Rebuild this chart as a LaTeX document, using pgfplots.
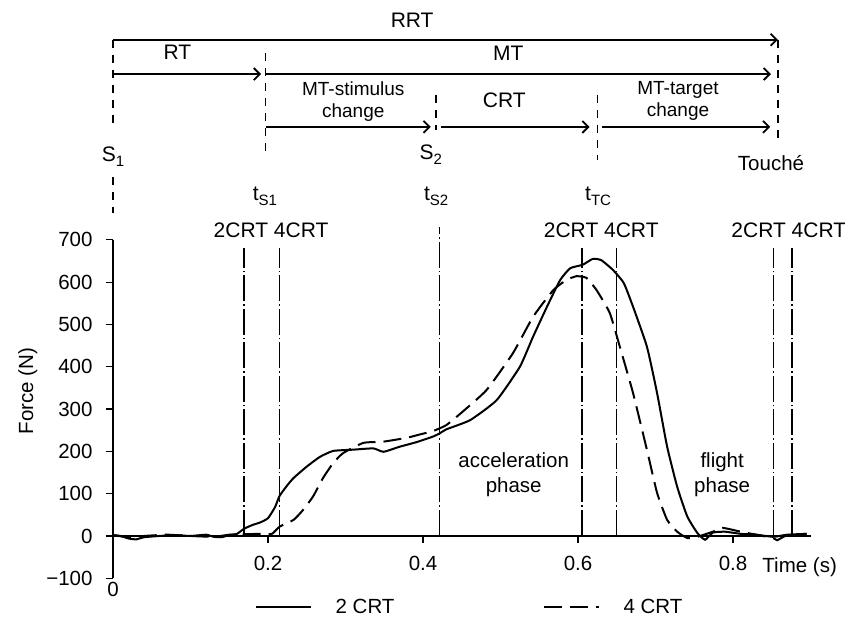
\documentclass[border=0pt]{standalone}
\usepackage{fontspec}
\setmainfont{Liberation Sans}
\usepackage{pgfplots}
\pgfplotsset{compat=1.18}
\usetikzlibrary{arrows.meta}
\newcommand\fs{\fontsize{20.5}{25}\selectfont}
\newcommand\fb{\fontsize{21}{25}\selectfont}
\newcommand\fsm{\fontsize{19}{22}\selectfont}
\newcommand\sub[1]{\raisebox{-0.45ex}{\fontsize{15}{15}\selectfont #1}}
\begin{document}
\begin{tikzpicture}
\begin{axis}[
  x=775pt, y=0.423pt,
  xmin=0, xmax=0.9, ymin=-100, ymax=700,
  axis x line*=middle, axis y line*=left,
  hide obscured x ticks=false, hide obscured y ticks=false,
  xtick={0.2,0.4,0.6,0.8}, xticklabels={0.2,0.4,0.6,0.8},
  ytick={-100,0,100,200,300,400,500,600,700},
  yticklabels={−100,0,100,200,300,400,500,600,700},
  tick align=outside, major tick length=7pt,
  every tick/.style={black, line width=1.2pt},
  axis line style={line width=1.6pt},
  tick label style={font=\fs},
  xticklabel style={yshift=-10pt},
  yticklabel style={xshift=-10pt},
  clip=false,
  legend style={draw=none, fill=none, at={(axis cs:0.46,-168)}, anchor=center,
    legend columns=2, font=\fs,
    /tikz/every odd column/.append style={column sep=22pt},
    /tikz/every even column/.append style={column sep=146pt}},
  legend image code/.code={\draw[#1] (0pt,0pt) -- (55pt,0pt);},
]
% curves
\addplot[black, line width=2pt, smooth, tension=0.3] coordinates {
(0,2) (0.01,0) (0.02,-6) (0.03,-8) (0.04,-3) (0.06,0) (0.08,2) (0.1,0) (0.12,3) (0.13,-2) (0.14,-3) (0.15,2) (0.16,5) (0.169,17) (0.18,26) (0.19,32) (0.2,42) (0.209,68) (0.215,95) (0.225,120) (0.233,137) (0.25,164) (0.267,187) (0.284,201) (0.31,204) (0.336,207) (0.349,199) (0.37,211) (0.392,222) (0.413,235) (0.422,243) (0.43,252) (0.461,274) (0.495,321) (0.525,400) (0.542,471) (0.56,542) (0.577,605) (0.59,633) (0.606,641) (0.619,655) (0.63,652) (0.645,629) (0.659,598) (0.671,542) (0.689,447) (0.702,338) (0.715,211) (0.728,116) (0.741,46) (0.754,7) (0.764,-9) (0.774,8) (0.79,10) (0.81,5) (0.83,3) (0.852,-2) (0.87,3) (0.895,5)
};
\addlegendentry{2 CRT}
\addplot[black, line width=2pt, smooth, tension=0.3, dash pattern=on 18pt off 8pt] coordinates {
(0,2) (0.02,-3) (0.04,0) (0.07,3) (0.1,0) (0.13,-2) (0.15,3) (0.17,4) (0.19,5) (0.205,5) (0.215,22) (0.233,38) (0.245,61) (0.258,93) (0.271,137) (0.284,172) (0.297,196) (0.323,220) (0.349,223) (0.379,232) (0.396,240) (0.413,248) (0.43,262) (0.45,292) (0.482,345) (0.516,432) (0.542,518) (0.568,581) (0.585,605) (0.598,614) (0.611,610) (0.624,581) (0.641,527) (0.654,447) (0.671,338) (0.689,203) (0.702,102) (0.715,38) (0.728,10) (0.741,-5) (0.754,-2) (0.774,10) (0.787,19) (0.81,10) (0.83,3) (0.852,-5) (0.857,-10) (0.87,2) (0.895,5)
};
\addlegendentry{4 CRT}
% vertical event lines
\pgfplotsset{every axis plot post/.append style={forget plot}}
\addplot[black, line width=1.3pt, dash pattern=on 26pt off 3pt on 1.5pt off 3pt] coordinates {(0.169,0) (0.169,680)};
\addplot[black, line width=1.3pt, dash pattern=on 26pt off 3pt on 1.5pt off 3pt] coordinates {(0.215,0) (0.215,680)};
\addplot[black, line width=1.3pt, dash pattern=on 26pt off 3pt on 1.5pt off 3pt] coordinates {(0.421,0) (0.421,730)};
\addplot[black, line width=1.3pt, dash pattern=on 26pt off 3pt on 1.5pt off 3pt] coordinates {(0.605,0) (0.605,680)};
\addplot[black, line width=1.3pt, dash pattern=on 26pt off 3pt on 1.5pt off 3pt] coordinates {(0.650,0) (0.650,680)};
\addplot[black, line width=1.3pt, dash pattern=on 26pt off 3pt on 1.5pt off 3pt] coordinates {(0.852,0) (0.852,680)};
\addplot[black, line width=1.3pt, dash pattern=on 26pt off 3pt on 1.5pt off 3pt] coordinates {(0.876,0) (0.876,680)};
% labels on plot
\node[font=\fb] at (axis cs:0.204,723) {2CRT 4CRT};
\node[font=\fb] at (axis cs:0.630,723) {2CRT 4CRT};
\node[font=\fb] at (axis cs:0.872,723) {2CRT 4CRT};
\node[font=\fb] at (axis cs:0.196,802) {t\sub{S1}};
\node[font=\fb] at (axis cs:0.417,802) {t\sub{S2}};
\node[font=\fb] at (axis cs:0.626,802) {t\sub{TC}};
\node[font=\fs, align=center] at (axis cs:0.517,144) {acceleration\\phase};
\node[font=\fs, align=center] at (axis cs:0.786,144) {flight\\phase};
\node[font=\fs, rotate=90] at (axis cs:-0.11,343) {Force (N)};
\node[font=\fs] at (axis cs:0.886,-73) {Time (s)};
\node[font=\fs, anchor=north] at (axis cs:0,-100) {0};
% top timing diagram
\tikzset{arr/.style={line width=2pt, -{Straight Barb[length=6pt,width=12pt,line width=1.8pt]}},
         vd/.style={line width=1.6pt, dash pattern=on 8pt off 7pt}}
\draw[arr] (axis cs:0,1173) -- (axis cs:0.858,1173);
\draw[arr] (axis cs:0,1092) -- (axis cs:0.191,1092);
\draw[arr] (axis cs:0.197,1092) -- (axis cs:0.849,1092);
\draw[arr] (axis cs:0.197,967) -- (axis cs:0.41,967);
\draw[arr] (axis cs:0.423,967) -- (axis cs:0.615,967);
\draw[arr] (axis cs:0.631,967) -- (axis cs:0.848,967);
\draw[vd] (axis cs:0,1173) -- (axis cs:0,967);
\draw[vd] (axis cs:0,849) -- (axis cs:0,764);
\draw[vd] (axis cs:0.197,1142) -- (axis cs:0.197,896);
\draw[vd] (axis cs:0.417,1043) -- (axis cs:0.417,960);
\draw[vd] (axis cs:0.625,1043) -- (axis cs:0.625,889);
\draw[vd] (axis cs:0.858,1173) -- (axis cs:0.858,936);
\node[font=\fb] at (axis cs:0.386,1220) {RRT};
\node[font=\fb] at (axis cs:0.083,1144) {RT};
\node[font=\fb] at (axis cs:0.51,1142) {MT};
\node[font=\fsm, align=center] at (axis cs:0.31,1028) {MT-stimulus\\change};
\node[font=\fb] at (axis cs:0.505,1031) {CRT};
\node[font=\fsm, align=center] at (axis cs:0.729,1028) {MT-target\\change};
\node[font=\fb] at (axis cs:0,896) {S\sub{1}};
\node[font=\fb] at (axis cs:0.41,901) {S\sub{2}};
\node[font=\fs] at (axis cs:0.849,882) {Touché};
\coordinate (BL) at (axis cs:-0.1458,-201);
\coordinate (TR) at (axis cs:0.9445,1267);
\end{axis}
\pgfresetboundingbox
\path[use as bounding box] (BL) rectangle (TR);
\end{tikzpicture}
\end{document}
